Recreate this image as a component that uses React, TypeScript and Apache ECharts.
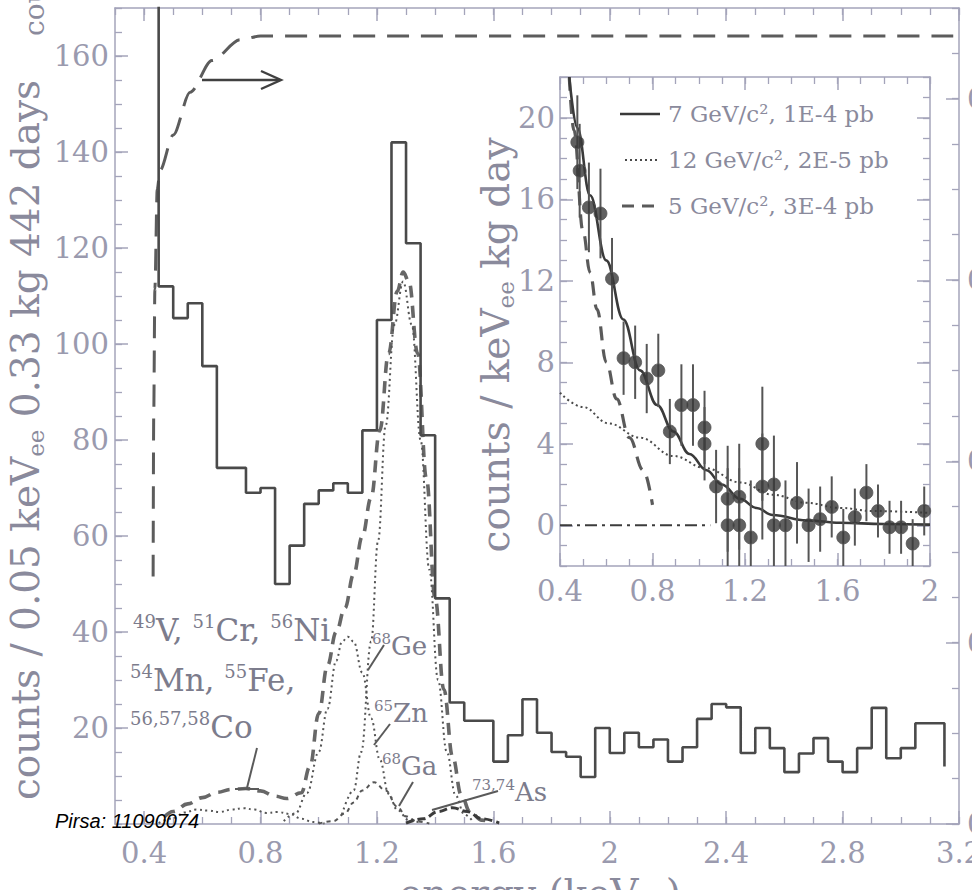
import React, { useEffect, useRef } from "react";
import * as echarts from "echarts";

// ---------------- main spectrum (counts / 0.05 keV) ----------------
const histStart = 0.45;
const binWidth = 0.05;
const histCounts = [
  112, 105.4, 108.5, 95.4, 74.2, 74.2, 69, 70, 50, 58,
  66.7, 69.5, 71, 69, 82, 105, 142, 121, 81, 47,
  25.3, 21.5, 21.5, 13, 18.5, 26, 19, 15, 14, 9.8,
  20, 14.8, 19, 16, 17.6, 13, 16, 21.9, 25, 24.3,
  14.8, 20, 15.8, 10.8, 14.7, 17.9, 13, 10.8, 15.8, 24.2,
  13.7, 15.8, 21, 21,
];
const histOffscaleTop = 175;
const histEndValue = 12;

const mainXTicks = [0.4, 0.8, 1.2, 1.6, 2.0, 2.4, 2.8, 3.2];
const mainYTicks = [20, 40, 60, 80, 100, 120, 140, 160];
const effTicks = [0, 0.2, 0.4, 0.6, 0.8];
const insetXTicks = [0.4, 0.8, 1.2, 1.6, 2.0];
const insetYTicks = [0, 4, 8, 12, 16, 20];

// trigger efficiency (right axis)
const efficiency = [
  [0.431, 0.273], [0.433, 0.45], [0.437, 0.59], [0.445, 0.7], [0.455, 0.721],
  [0.5, 0.76], [0.558, 0.807], [0.633, 0.842], [0.73, 0.865], [0.8, 0.869], [3.2, 0.869],
];

// L-shell EC components
const lShellSum = [
  [0.47, 1.5], [0.5, 2.6], [0.55, 4.2], [0.6, 5.5], [0.65, 6.6], [0.7, 7.2], [0.75, 7.4],
  [0.8, 6.9], [0.85, 5.8], [0.89, 5.3], [0.94, 6.5], [0.97, 12], [1.0, 23], [1.03, 33],
  [1.06, 40], [1.09, 45], [1.12, 52], [1.15, 60], [1.18, 68], [1.21, 82], [1.24, 98],
  [1.27, 111], [1.29, 115], [1.31, 113], [1.34, 98], [1.37, 72], [1.4, 47], [1.43, 28],
  [1.46, 14], [1.49, 6], [1.52, 2.5], [1.56, 0.8], [1.6, 0.2],
];
const ge68 = [
  [1.08, 2], [1.12, 7], [1.146, 15], [1.18, 38], [1.204, 59], [1.23, 83], [1.26, 104],
  [1.29, 113], [1.32, 104], [1.35, 80], [1.38, 53], [1.41, 30], [1.44, 15], [1.47, 6],
  [1.5, 2], [1.53, 0.5],
];
const zn65 = [
  [0.88, 0.6], [0.92, 2.2], [0.96, 6.5], [1.0, 15], [1.03, 24], [1.06, 34], [1.08, 38],
  [1.1, 39], [1.12, 38], [1.15, 31.5], [1.18, 22], [1.21, 13.4], [1.24, 6.3], [1.27, 2.9],
  [1.31, 0.8], [1.35, 0.2],
];
const ga68 = [
  [1.0, 0.1], [1.05, 0.6], [1.09, 2.2], [1.12, 4.5], [1.15, 7.0], [1.19, 8.7], [1.23, 7.0],
  [1.27, 3.6], [1.3, 1.6], [1.34, 0.5], [1.38, 0.1],
];
const as7374 = [
  [1.3, 0.2], [1.36, 1.1], [1.41, 2.6], [1.46, 3.4], [1.51, 2.6], [1.56, 1.1], [1.62, 0.2],
];
const lightPeaks = [
  [0.45, 0.2], [0.5, 1.2], [0.54, 2.4], [0.58, 3.0], [0.62, 2.8], [0.66, 2.5], [0.7, 3.0],
  [0.74, 3.3], [0.78, 3.0], [0.82, 2.3], [0.86, 2.5], [0.9, 2.1], [0.94, 1.1], [0.98, 0.4],
  [1.02, 0.1],
];

// ---------------- inset (counts / keV kg day) ----------------
const residE = [
  0.475, 0.485, 0.525, 0.575, 0.625, 0.675, 0.725, 0.775, 0.825, 0.875, 0.925, 0.975,
  1.025, 1.025, 1.075, 1.125, 1.125, 1.175, 1.175, 1.225, 1.275, 1.275, 1.325, 1.325,
  1.375, 1.425, 1.475, 1.525, 1.575, 1.625, 1.675, 1.725, 1.775, 1.825, 1.875, 1.925, 1.975,
];
const residV = [
  18.8, 17.4, 15.6, 15.3, 12.1, 8.2, 8.0, 7.2, 7.6, 4.6, 5.9, 5.9,
  4.8, 4.0, 1.9, 1.3, 0.0, 1.4, 0.0, -0.6, 4.0, 1.9, 2.0, 0.0,
  0.0, 1.1, 0.0, 0.3, 0.9, -0.6, 0.4, 1.6, 0.7, -0.1, -0.1, -0.9, 0.7,
];
const residErr = [
  2.3, 2.3, 2.2, 2.2, 2.0, 1.8, 1.8, 1.7, 1.8, 1.6, 2.0, 2.0,
  1.8, 1.8, 1.8, 2.6, 2.8, 2.6, 2.8, 2.8, 2.8, 2.6, 2.4, 2.4,
  2.2, 2.0, 1.8, 1.6, 1.5, 1.4, 1.4, 1.4, 1.3, 1.3, 1.3, 1.2, 1.2,
];
const wimp7 = [
  [0.44, 22], [0.475, 19.5], [0.53, 16.2], [0.6, 13], [0.674, 10.1], [0.746, 7.6],
  [0.82, 5.9], [0.89, 4.6], [0.96, 3.5], [1.034, 2.7], [1.1, 2.0], [1.178, 1.3],
  [1.25, 0.85], [1.32, 0.5], [1.466, 0.24], [1.61, 0.12], [1.8, 0.06], [2.0, 0.03],
];
const wimp12 = [
  [0.4, 6.5], [0.5, 5.8], [0.61, 5.0], [0.746, 4.3], [0.89, 3.4], [1.03, 2.8], [1.18, 2.1],
  [1.32, 1.5], [1.466, 1.1], [1.61, 0.85], [1.75, 0.7], [2.0, 0.6],
];
const wimp5 = [
  [0.44, 22], [0.46, 19.4], [0.5, 14.4], [0.53, 12.4], [0.56, 10.6], [0.6, 8.0],
  [0.645, 6.2], [0.7, 4.3], [0.76, 2.7], [0.8, 1.0],
];
const zeroLine = [[0.4, 0], [1.05, 0]];
const legendLabels = ["7 GeV/c², 1E-4 pb", "12 GeV/c², 2E-5 pb", "5 GeV/c², 3E-4 pb"];

// ---------------- styling ----------------
const FRAME = "#a4a4ba";
const LABEL = "#9a9aae";
const TITLE = "#8a8a9c";
const NOTE = "#7c7c8c";
const INK = "#4a4a4a";
const SERIF = "DejaVu Serif";

const fmt1 = (v: number) => String(Math.round(v * 10) / 10);
const fmt0 = (v: number) => String(Math.round(v));

function buildHistogram(): number[][] {
  const pts: number[][] = [[histStart, histOffscaleTop]];
  histCounts.forEach((c, i) => {
    const e0 = +(histStart + i * binWidth).toFixed(3);
    const e1 = +(e0 + binWidth).toFixed(3);
    pts.push([e0, c], [e1, c]);
  });
  const eEnd = +(histStart + histCounts.length * binWidth).toFixed(3);
  pts.push([eEnd, histEndValue]);
  return pts;
}

function majorAxis(
  gridIndex: number, min: number, max: number, position: string, ticks: number[],
  label: null | { margin: number; formatter: (v: number) => string }
) {
  return {
    type: "value", gridIndex, min, max, position,
    axisLine: { show: true, onZero: false, lineStyle: { color: FRAME, width: 1.5 } },
    axisTick: { show: true, inside: true, length: 13, customValues: ticks, lineStyle: { color: FRAME, width: 1.5 } },
    axisLabel: label
      ? { show: true, customValues: ticks, formatter: label.formatter, margin: label.margin,
          fontFamily: SERIF, fontSize: 29, color: LABEL, hideOverlap: false }
      : { show: false },
    splitLine: { show: false },
  };
}
function minorAxis(gridIndex: number, min: number, max: number, position: string, interval: number) {
  return {
    type: "value", gridIndex, min, max, position, interval,
    axisLine: { show: false, onZero: false },
    axisTick: { show: true, inside: true, length: 7, lineStyle: { color: FRAME, width: 1.3 } },
    axisLabel: { show: false },
    splitLine: { show: false },
  };
}

function curve(data: number[][], xi: number, yi: number, style: any, z = 3, smooth: any = 0.4) {
  return {
    type: "line", xAxisIndex: xi, yAxisIndex: yi, data, smooth, smoothMonotone: "x",
    showSymbol: false, symbol: "none", lineStyle: style, z, silent: true, clip: true,
  };
}

function supText(x: number, y: number, parts: [string, string][], big: number, small: number, lh: number) {
  const text = parts.map(([s, n]) => (s ? `{s|${s}}` : "") + `{n|${n}}`).join("");
  return {
    type: "text", x, y, z: 50, silent: true,
    style: {
      text,
      rich: {
        n: { fontSize: big, fontFamily: SERIF, lineHeight: lh, fill: NOTE },
        s: { fontSize: small, fontFamily: SERIF, lineHeight: small + 2, verticalAlign: "top", fill: NOTE },
      },
      align: "left", verticalAlign: "top", textAlign: "left", textVerticalAlign: "top",
    },
  };
}

function seg(x1: number, y1: number, x2: number, y2: number, color = "#5a5a5a", w = 2, dash?: any) {
  return {
    type: "line", z: 50, silent: true,
    shape: { x1, y1, x2, y2 },
    style: { stroke: color, lineWidth: w, lineDash: dash },
  };
}

export default function App() {
  const ref = useRef<HTMLDivElement>(null);
  useEffect(() => {
    if (!ref.current) return;
    const chart = echarts.init(ref.current, undefined, { renderer: "svg" });

    const titleRich = (size: number) => ({
      a: { fontSize: size, fontFamily: SERIF, lineHeight: size + 5, fill: TITLE },
      b: { fontSize: Math.round(size * 0.6), fontFamily: SERIF, lineHeight: Math.round(size * 0.62), verticalAlign: "bottom", fill: TITLE },
    });

    const option: any = {
      animation: false,
      backgroundColor: "#ffffff",
      textStyle: { fontFamily: SERIF },
      grid: [
        { left: 115, top: 8, width: 844, height: 816, show: false, containLabel: false, outerBoundsMode: "none" },
        { left: 560, top: 77, width: 370, height: 489, show: true, backgroundColor: "#ffffff", borderWidth: 0,
          containLabel: false, outerBoundsMode: "none" },
      ],
      xAxis: [
        majorAxis(0, 0.3, 3.2, "bottom", mainXTicks, { margin: 14, formatter: fmt1 }),
        minorAxis(0, 0.3, 3.2, "bottom", 0.1),
        majorAxis(0, 0.3, 3.2, "top", mainXTicks, null),
        minorAxis(0, 0.3, 3.2, "top", 0.1),
        majorAxis(1, 0.4, 2.0, "bottom", insetXTicks, { margin: 10, formatter: fmt1 }),
        minorAxis(1, 0.4, 2.0, "bottom", 0.1),
        majorAxis(1, 0.4, 2.0, "top", insetXTicks, null),
        minorAxis(1, 0.4, 2.0, "top", 0.1),
      ],
      yAxis: [
        majorAxis(0, 0, 170, "left", mainYTicks, { margin: 6, formatter: fmt0 }),
        minorAxis(0, 0, 170, "left", 5),
        majorAxis(0, 0, 0.9, "right", effTicks, { margin: 8, formatter: fmt1 }),
        minorAxis(0, 0, 0.9, "right", 0.05),
        majorAxis(1, -2, 22, "left", insetYTicks, { margin: 5, formatter: fmt0 }),
        minorAxis(1, -2, 22, "left", 1),
        majorAxis(1, -2, 22, "right", insetYTicks, null),
        minorAxis(1, -2, 22, "right", 1),
      ],
      series: [
        // main plot
        {
          type: "line", xAxisIndex: 0, yAxisIndex: 0, data: buildHistogram(), showSymbol: false,
          symbol: "none", lineStyle: { color: INK, width: 2.6 }, z: 4, clip: true, silent: true,
        },
        curve(efficiency, 0, 2, { color: "#5c5c5c", width: 3, type: [22, 12] }, 3, 0.3),
        curve(lShellSum, 0, 0, { color: "#676767", width: 3.6, type: [12, 8] }, 3),
        curve(ge68, 0, 0, { color: "#555555", width: 2, type: [2, 3.5] }, 3),
        curve(zn65, 0, 0, { color: "#555555", width: 2, type: [2, 3.5] }, 3),
        curve(ga68, 0, 0, { color: "#555555", width: 2, type: [4, 4] }, 3),
        curve(as7374, 0, 0, { color: "#3c3c3c", width: 3, type: [8, 4] }, 3),
        curve(lightPeaks, 0, 0, { color: "#555555", width: 2, type: [2, 3.5] }, 3),
        // inset
        curve(zeroLine, 4, 4, { color: "#3c3c3c", width: 2, type: [12, 5, 3, 5] }, 5, false),
        curve(wimp12, 4, 4, { color: "#4a4a4a", width: 2, type: [2, 3] }, 5),
        curve(wimp5, 4, 4, { color: "#5a5a5a", width: 3.2, type: [14, 9] }, 5),
        curve(wimp7, 4, 4, { color: "#3a3a3a", width: 2.6 }, 6),
        {
          type: "custom", xAxisIndex: 4, yAxisIndex: 4, clip: true, z: 7, silent: true,
          data: residE.map((e, i) => [e, residV[i] - residErr[i], residV[i] + residErr[i]]),
          encode: { x: 0, y: [1, 2] },
          renderItem: (_p: any, api: any) => {
            const a = api.coord([api.value(0), api.value(1)]);
            const b = api.coord([api.value(0), api.value(2)]);
            return {
              type: "line",
              shape: { x1: a[0], y1: a[1], x2: b[0], y2: b[1] },
              style: { stroke: "#555555", lineWidth: 2 },
            };
          },
        },
        {
          type: "scatter", xAxisIndex: 4, yAxisIndex: 4, z: 8, silent: true,
          data: residE.map((e, i) => [e, residV[i]]),
          symbol: "circle", symbolSize: 13,
          itemStyle: { color: "#383838", borderColor: "#555555", borderWidth: 1 },
        },
      ],
      graphic: [
        // axis titles
        {
          type: "text", x: 25, y: 440, rotation: Math.PI / 2, z: 50, silent: true,
          style: {
            text: "{a|counts / 0.05 keV}{b|ee}{a| 0.33 kg 442 days}", rich: titleRich(39),
            align: "center", verticalAlign: "middle", textAlign: "center", textVerticalAlign: "middle",
          },
        },
        {
          type: "text", x: 48, y: 36, rotation: Math.PI / 2, z: 50, silent: true,
          style: {
            text: "cou", fontSize: 28, fontFamily: SERIF, fill: TITLE,
            align: "left", verticalAlign: "bottom", textAlign: "left", textVerticalAlign: "bottom",
          },
        },
        {
          type: "text", x: 495, y: 345, rotation: Math.PI / 2, z: 50, silent: true,
          style: {
            text: "{a|counts / keV}{b|ee}{a| kg day}", rich: titleRich(39),
            align: "center", verticalAlign: "middle", textAlign: "center", textVerticalAlign: "middle",
          },
        },
        {
          type: "text", x: 540, y: 871, z: 50, silent: true,
          style: {
            text: "{a|energy (keV}{b|ee}{a|)}", rich: titleRich(39),
            align: "center", verticalAlign: "top", textAlign: "center", textVerticalAlign: "top",
          },
        },
        // isotope annotations
        supText(133, 612, [["49", "V, "], ["51", "Cr, "], ["56", "Ni"]], 31, 18, 36),
        supText(130, 662, [["54", "Mn, "], ["55", "Fe,"]], 31, 18, 36),
        supText(130, 709, [["56,57,58", "Co"]], 31, 18, 36),
        supText(372, 631, [["68", "Ge"]], 26, 15, 30),
        supText(374, 698, [["65", "Zn"]], 26, 15, 30),
        supText(382, 751, [["68", "Ga"]], 26, 15, 30),
        supText(472, 777, [["73,74", "As"]], 26, 15, 30),
        seg(257, 748, 247, 788),
        seg(235, 789, 259, 789),
        seg(384, 645, 368, 670),
        seg(390, 724, 374, 745),
        seg(413, 782, 399, 806),
        seg(498, 791, 432, 810),
        // efficiency arrow
        seg(202, 80, 280, 80, "#404040", 2.4),
        {
          type: "polyline", z: 50, silent: true,
          shape: { points: [[261, 71], [281, 80], [261, 89]] },
          style: { stroke: "#404040", lineWidth: 2.4, fill: "none" },
        },
        // inset legend
        seg(620, 114, 660, 114, "#3a3a3a", 2.6),
        seg(625, 160, 659, 160, "#4a4a4a", 2, [2, 3]),
        seg(622, 206, 659, 206, "#5a5a5a", 3, [12, 8]),
        ...legendLabels.map((t, i) => ({
          type: "text", x: 668, y: [114, 160, 206][i], z: 50, silent: true,
          style: {
            text: t, fontSize: 23, fontFamily: SERIF, fill: TITLE,
            align: "left", verticalAlign: "middle", textAlign: "left", textVerticalAlign: "middle",
          },
        })),
        // watermark
        {
          type: "text", x: 55, y: 821, z: 60, silent: true,
          style: {
            text: "Pirsa: 11090074", fontSize: 20, fontStyle: "italic", fontFamily: "Liberation Sans",
            fill: "#000000", align: "left", verticalAlign: "middle", textAlign: "left", textVerticalAlign: "middle",
          },
        },
      ],
    };

    chart.setOption(option);
    return () => chart.dispose();
  }, []);

  return <div ref={ref} style={{ position: "absolute", left: 0, top: 0, width: 972, height: 890 }} />;
}
